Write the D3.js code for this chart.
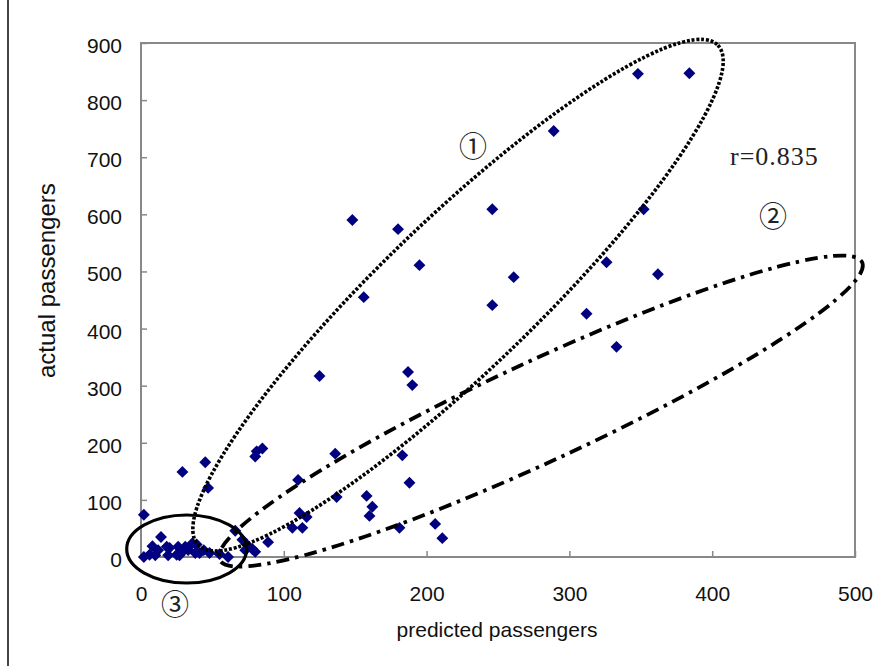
<!DOCTYPE html>
<html><head><meta charset="utf-8">
<script src="https://cdn.jsdelivr.net/npm/d3@7"></script>
<style>html,body{margin:0;padding:0;background:#fff;}svg{display:block;}</style>
</head><body>
<script>
// ---- data ----
const xTickValues = [0, 100, 200, 300, 400, 500];
const yTickValues = [0, 100, 200, 300, 400, 500, 600, 700, 800, 900];
const xLabel = "predicted passengers";
const yLabel = "actual passengers";
const predicted = [384,348,289,246,352,148,180,326,195,362,261,156,246,312,333,187,125,190,85,81,80,136,183,110,188,137,158,162,160,111,116,106,113,181,206,211,89,
  2,29,45,47,66,71,74,73,80,61,48,38,36,29,26,25,20,14,8,6,2,10,19,27,33,41,18,39,12,31,44,55,78];
const actual = [847,846,746,609,609,590,574,516,511,495,490,455,441,426,368,324,317,301,190,185,176,181,178,135,130,105,107,88,72,77,70,51,51,51,58,33,26,
  74,149,166,121,46,30,22,12,9,0,7,7,24,9,18,4,16,35,19,4,0,3,3,3,12,7,18,22,12,18,12,5,14];
// annotation groups (tips along the long axis, in data units)
const groupNames = ["\u2460", "\u2461", "\u2462"];
const groupTipA = [[40, 21], [55, -5], [-10, 14]];
const groupTipB = [[404, 896], [505, 516], [74, 14]];
const groupLabelAt = [[232.5, 721], [442.6, 599], [23.8, -80.5]];
const corrText = "r=0.835";
const corrAt = [412.5, 686];

// ---- layout ----
const W = 885, H = 666;
const svg = d3.select("body").append("svg").attr("width", W).attr("height", H);
svg.append("rect").attr("width", W).attr("height", H).attr("fill", "#fff");
const x = d3.scaleLinear().domain([0, 500]).range([141, 855]);
const y = d3.scaleLinear().domain([0, 900]).range([557, 43]);

// page border line on left
svg.append("line").attr("x1", 8).attr("x2", 8).attr("y1", 0).attr("y2", H)
  .attr("stroke", "#444").attr("stroke-width", 2);

// plot frame
svg.append("rect").attr("x", x(0)).attr("y", y(900))
  .attr("width", x(500) - x(0)).attr("height", y(0) - y(900))
  .attr("fill", "none").attr("stroke", "#888").attr("stroke-width", 2);

const font = "'Liberation Sans', Arial, sans-serif";
const gx = svg.append("g").attr("transform", `translate(0,${y(0)})`)
  .call(d3.axisBottom(x).tickValues(xTickValues).tickSizeInner(-6).tickSizeOuter(0).tickPadding(29));
const gy = svg.append("g").attr("transform", `translate(${x(0)},0)`)
  .call(d3.axisLeft(y).tickValues(yTickValues).tickSizeInner(-6).tickSizeOuter(0).tickPadding(19));
[gx, gy].forEach(g => {
  g.select(".domain").remove();
  g.selectAll(".tick line").attr("stroke", "#888").attr("stroke-width", 1.5);
  g.selectAll(".tick text").attr("fill", "#111").style("font-family", font).style("font-size", "21px");
});
gy.selectAll(".tick text").attr("dy", "0.45em");

// axis titles
svg.append("text").attr("x", 497).attr("y", 637).attr("text-anchor", "middle")
  .style("font-family", font).style("font-size", "21px").attr("fill", "#111").text(xLabel);
svg.append("text").attr("transform", "translate(55,378) rotate(-90)").attr("text-anchor", "start")
  .style("font-family", font).style("font-size", "24px").attr("fill", "#111").text(yLabel);

// points
const pts = predicted.map((p, i) => [p, actual[i]]);
svg.append("g").selectAll("path").data(pts).join("path")
  .attr("transform", d => `translate(${x(d[0])},${y(d[1])})`)
  .attr("d", d3.symbol().type(d3.symbolDiamond2).size(90))
  .attr("fill", "#000080");

// ellipses
const minorPx = [76, 50, 34];
const dashes = ["3,1.8", "13,6,3.5,6", null];
const widths = [3.6, 3.8, 3.2];
groupTipA.forEach((ta, i) => {
  const tb = groupTipB[i];
  const ax = x(ta[0]), ay = y(ta[1]), bx = x(tb[0]), by = y(tb[1]);
  const cx = (ax + bx) / 2, cy = (ay + by) / 2;
  const a = Math.hypot(bx - ax, by - ay) / 2;
  const ang = Math.atan2(by - ay, bx - ax) * 180 / Math.PI;
  const e = svg.append("ellipse").attr("cx", 0).attr("cy", 0).attr("rx", a).attr("ry", minorPx[i])
    .attr("transform", `translate(${cx},${cy}) rotate(${ang})`)
    .attr("fill", "none").attr("stroke", "#000").attr("stroke-width", widths[i]);
  if (dashes[i]) e.attr("stroke-dasharray", dashes[i]);
  const lp = groupLabelAt[i];
  svg.append("text").attr("x", x(lp[0])).attr("y", y(lp[1]))
    .attr("text-anchor", "middle").attr("dominant-baseline", "central")
    .style("font-family", "'Noto Sans CJK JP', 'DejaVu Sans', sans-serif").style("font-size", "28px")
    .attr("fill", "#222").text(groupNames[i]);
});

svg.append("text").attr("x", x(corrAt[0])).attr("y", y(corrAt[1]))
  .style("font-family", "'Liberation Serif', 'Times New Roman', serif").style("font-size", "26px")
  .style("letter-spacing", "1px").attr("fill", "#222").text(corrText);
</script>
</body></html>
